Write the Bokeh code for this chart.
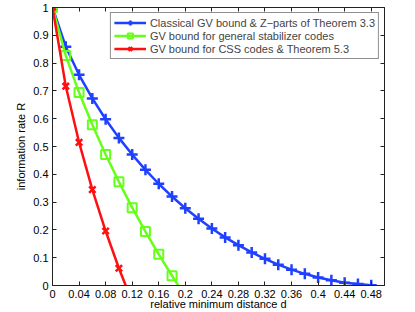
from bokeh.plotting import figure
from bokeh.models import FixedTicker, LinearAxis, Range1d, Legend, LegendItem
from bokeh.embed import file_html
from bokeh.resources import INLINE

# Data
d_blue = [0, 0.02, 0.04, 0.06, 0.08, 0.10, 0.12, 0.14, 0.16, 0.18, 0.20, 0.22, 0.24,
          0.26, 0.28, 0.30, 0.32, 0.34, 0.36, 0.38, 0.40, 0.42, 0.44, 0.46, 0.48]
r_blue = [1.0, 0.859, 0.758, 0.673, 0.598, 0.531, 0.471, 0.416, 0.366, 0.320, 0.278,
          0.240, 0.205, 0.173, 0.145, 0.119, 0.096, 0.075, 0.057, 0.042, 0.029,
          0.019, 0.010, 0.005, 0.001]
d_green = [0, 0.02, 0.04, 0.06, 0.08, 0.10, 0.12, 0.14, 0.16, 0.18, 0.20]
r_green = [1.0, 0.827, 0.694, 0.578, 0.471, 0.373, 0.280, 0.194, 0.112, 0.035, -0.039]
d_red = [0, 0.02, 0.04, 0.06, 0.08, 0.10, 0.12]
r_red = [1.0, 0.717, 0.515, 0.345, 0.196, 0.062, -0.059]

x_ticks = [0, 0.04, 0.08, 0.12, 0.16, 0.2, 0.24, 0.28, 0.32, 0.36, 0.4, 0.44, 0.48]
x_tick_labels = ["0", "0.04", "0.08", "0.12", "0.16", "0.2", "0.24", "0.28", "0.32",
                 "0.36", "0.4", "0.44", "0.48"]
y_ticks = [0, 0.1, 0.2, 0.3, 0.4, 0.5, 0.6, 0.7, 0.8, 0.9, 1]
y_tick_labels = ["0", "0.1", "0.2", "0.3", "0.4", "0.5", "0.6", "0.7", "0.8", "0.9", "1"]

labels = ["Classical GV bound & Z\u2212parts of Theorem 3.3",
          "GV bound for general stabilizer codes",
          "GV bound for CSS codes & Theorem 5.3"]

BLUE = "#2040ff"
GREEN = "#66ff1a"
RED = "#ff1010"
FONT = "Liberation Sans"
AX = "#222222"
FS = "11px"

p = figure(width=415, height=312, output_backend="svg", toolbar_location=None,
           x_range=Range1d(0, 0.5), y_range=Range1d(0, 1),
           min_border_left=52, min_border_right=31, min_border_top=7, min_border_bottom=27)
p.xgrid.visible = False
p.ygrid.visible = False
p.outline_line_color = AX
p.outline_line_width = 1
p.background_fill_color = "white"
p.border_fill_color = "white"

lb = p.line(d_blue, r_blue, line_color=BLUE, line_width=2.5)
mb = p.scatter(d_blue, r_blue, marker="cross", size=11, line_color=BLUE, line_width=2.5)
lg = p.line(d_green, r_green, line_color=GREEN, line_width=2.5)
mg = p.scatter(d_green, r_green, marker="square", size=9, line_color=GREEN,
               fill_color=None, line_width=2)
lr = p.line(d_red, r_red, line_color=RED, line_width=2.5)
mr = p.scatter(d_red, r_red, marker="x", size=9, line_color=RED, line_width=2.5)

for ax in (p.xaxis[0], p.yaxis[0]):
    ax.major_tick_in = 4
    ax.major_tick_out = 0
    ax.minor_tick_in = 0
    ax.minor_tick_out = 0
    ax.axis_line_color = AX
    ax.major_tick_line_color = AX
    ax.major_label_text_font = FONT
    ax.major_label_text_font_size = FS
    ax.major_label_text_color = "black"
    ax.axis_label_text_font = FONT
    ax.axis_label_text_font_size = FS
    ax.axis_label_text_font_style = "normal"
    ax.axis_label_text_color = "black"

p.xaxis[0].ticker = FixedTicker(ticks=x_ticks)
p.xaxis[0].major_label_overrides = dict(zip(x_ticks, x_tick_labels))
p.yaxis[0].ticker = FixedTicker(ticks=y_ticks)
p.yaxis[0].major_label_overrides = dict(zip(y_ticks, y_tick_labels))
p.xaxis[0].axis_label = "relative minimum distance d"
p.yaxis[0].axis_label = "information rate R"
p.xaxis[0].major_label_standoff = 4
p.xaxis[0].axis_label_standoff = -3
p.yaxis[0].major_label_standoff = 4
p.yaxis[0].axis_label_standoff = 3

top = LinearAxis(ticker=FixedTicker(ticks=x_ticks),
                 major_label_overrides={t: "" for t in x_ticks},
                 major_tick_in=4, major_tick_out=0, minor_tick_in=0, minor_tick_out=0,
                 axis_line_color=AX, major_tick_line_color=AX, major_label_standoff=0)
right = LinearAxis(ticker=FixedTicker(ticks=y_ticks),
                   major_label_overrides={t: "" for t in y_ticks},
                   major_tick_in=4, major_tick_out=0, minor_tick_in=0, minor_tick_out=0,
                   axis_line_color=AX, major_tick_line_color=AX, major_label_standoff=0)
p.add_layout(top, "above")
p.add_layout(right, "right")

legend = Legend(items=[LegendItem(label=labels[0], renderers=[lb, mb]),
                       LegendItem(label=labels[1], renderers=[lg, mg]),
                       LegendItem(label=labels[2], renderers=[lr, mr])],
                location="top_right")
legend.margin = 5
legend.padding = 3
legend.spacing = 0
legend.label_height = 13
legend.glyph_height = 13
legend.glyph_width = 32
legend.label_standoff = 4
legend.label_text_font = FONT
legend.label_text_font_size = FS
legend.border_line_color = AX
legend.border_line_width = 1
legend.background_fill_alpha = 1
p.add_layout(legend)

open("out.html", "w").write(file_html(p, INLINE))
